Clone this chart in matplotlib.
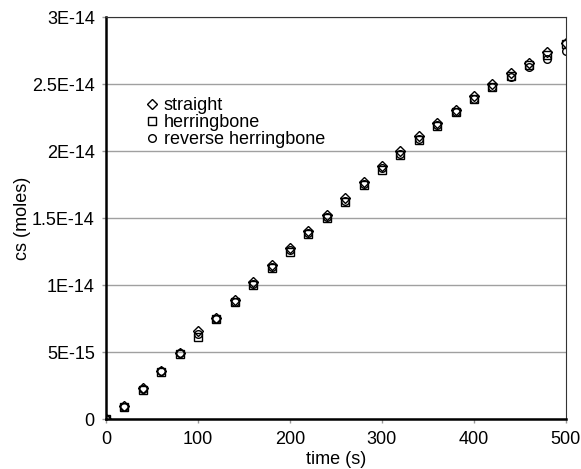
import matplotlib
matplotlib.use("Agg")
import matplotlib.pyplot as plt

plt.rcParams['font.family'] = ['Liberation Sans', 'DejaVu Sans']

# time points (s)
time_s = list(range(0, 501, 20))

# cs in units of 1E-15 moles
straight = [0, 0.95, 2.3, 3.6, 4.95, 6.6, 7.55, 8.9, 10.25, 11.5, 12.8, 14.0, 15.2,
            16.5, 17.7, 18.9, 20.0, 21.1, 22.1, 23.1, 24.1, 25.0, 25.8, 26.6, 27.4, 28.1]
herringbone = [0, 0.9, 2.2, 3.5, 4.85, 6.1, 7.45, 8.7, 10.0, 11.3, 12.5, 13.8, 15.0,
               16.2, 17.5, 18.6, 19.7, 20.8, 21.9, 22.9, 23.9, 24.8, 25.6, 26.4, 27.2, 28.0]
reverse = [0, 0.9, 2.25, 3.55, 4.9, 6.35, 7.5, 8.75, 10.05, 11.35, 12.6, 13.85, 15.05,
           16.3, 17.55, 18.7, 19.8, 20.9, 21.95, 22.95, 23.9, 24.75, 25.5, 26.3, 26.9, 27.5]

y_ticks = [0, 5, 10, 15, 20, 25, 30]
y_labels = ['0', '5E-15', '1E-14', '1.5E-14', '2E-14', '2.5E-14', '3E-14']
x_ticks = [0, 100, 200, 300, 400, 500]

fig = plt.figure(figsize=(5.81, 4.69), dpi=100)
ax = fig.add_axes([0.1824, 0.1066, 0.7916, 0.857])

ax.plot(time_s, straight, linestyle='none', marker='D', ms=5, mfc='none',
        mec='black', mew=1, label='straight')
ax.plot(time_s, herringbone, linestyle='none', marker='s', ms=5.5, mfc='none',
        mec='black', mew=1, label='herringbone')
ax.plot(time_s, reverse, linestyle='none', marker='o', ms=5.5, mfc='none',
        mec='black', mew=1, label='reverse herringbone')

ax.set_xlim(0, 500)
ax.set_ylim(0, 30)
ax.set_xticks(x_ticks)
ax.set_yticks(y_ticks)
ax.set_yticklabels(y_labels)
ax.tick_params(axis='both', labelsize=13, color='#999999', length=3, width=1)
ax.tick_params(axis='y', pad=5)
ax.tick_params(axis='x', pad=5.5)
ax.grid(axis='y', color='#a0a0a0', linewidth=1)
ax.set_axisbelow(True)

ax.spines['left'].set_linewidth(1.8)
ax.spines['bottom'].set_linewidth(1.8)
ax.spines['top'].set_color('#333333')
ax.spines['right'].set_color('#333333')

ax.set_xlabel('time (s)', fontsize=13, labelpad=2.5)
ax.set_ylabel('cs (moles)', fontsize=13, labelpad=1)

ax.legend(loc='upper left', bbox_to_anchor=(0.065, 0.818), frameon=False, fontsize=13,
          handletextpad=0.15, labelspacing=0.0, borderaxespad=0, handlelength=1.0)

fig.savefig('out.png', dpi=100)
